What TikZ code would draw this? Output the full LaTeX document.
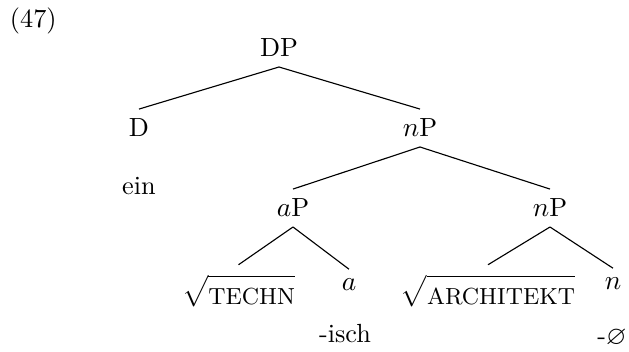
\documentclass[tikz,border=0pt]{standalone}
\usepackage{amssymb}
\newcommand{\rootcaps}[1]{\mbox{\rule{0pt}{10pt}\fontsize{9.3}{11}\selectfont #1}}
\begin{document}
\begin{tikzpicture}[x=0.4pt,y=-0.4pt,
  lab/.style={anchor=base,inner sep=4pt,outer sep=0pt,font=\fontsize{10.5}{12.6}\selectfont},
  edge/.style={draw,line width=0.45pt}]
\useasboundingbox (0,0) rectangle (629,352);
\node[lab,anchor=base west,inner sep=0pt] (ex) at (10,28) {(47)};
\node[lab] (DP) at (279,57) {DP};
\node[lab] (D) at (139,137) {D};
\node[lab] (ein) at (139,195) {ein};
\node[lab] (nP) at (420,137) {$n$P};
\node[lab] (aP) at (293,217) {$a$P};
\node[lab] (nP2) at (550,217) {$n$P};
\node[lab] (techn) at (238.5,305) {$\sqrt{\rootcaps{TECHN}}$};
\node[lab] (a) at (349,291) {$a$};
\node[lab] (isch) at (345,343) {-isch};
\node[lab] (archi) at (488,305) {$\sqrt{\rootcaps{ARCHITEKT}}$};
\node[lab] (n) at (613,290) {$n$};
\node[lab] (null) at (612,345) {-$\varnothing$};
\draw[edge] (DP.south) -- (D.north);
\draw[edge] (DP.south) -- (nP.north);
\draw[edge] (nP.south) -- (aP.north);
\draw[edge] (nP.south) -- (nP2.north);
\draw[edge] (aP.south) -- (techn.north);
\draw[edge] (aP.south) -- (a.north);
\draw[edge] (nP2.south) -- (archi.north);
\draw[edge] (nP2.south) -- (n.north);
\end{tikzpicture}
\end{document}
